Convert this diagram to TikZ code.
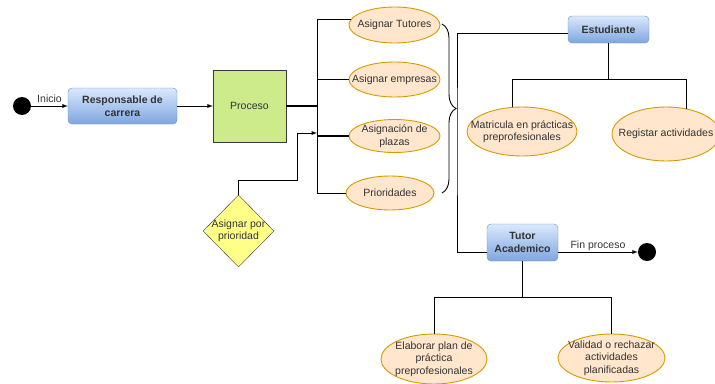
\documentclass[tikz,border=0pt]{standalone}
\usepackage{fontspec}
\setmainfont{Liberation Sans}
\usetikzlibrary{shapes.geometric, decorations.pathreplacing}
\definecolor{boxtop}{HTML}{DAE8FC}
\definecolor{boxbot}{HTML}{7EA6E0}
\definecolor{boxline}{HTML}{6C8EBF}
\definecolor{procfill}{HTML}{CDEB8B}
\definecolor{darkline}{HTML}{36393D}
\definecolor{ovalfill}{HTML}{FFE6CC}
\definecolor{ovalline}{HTML}{D79B00}
\definecolor{choicefill}{HTML}{FFFF88}
\definecolor{txtgray}{HTML}{333333}
\begin{document}
\begin{tikzpicture}[%
      x=1pt, y=-1pt, font=\fontsize{10.5}{12.5}\selectfont, text=txtgray,
      block/.style={rectangle, draw=boxline, top color=boxtop, bottom color=boxbot, rounded corners=4pt, align=center, inner sep=1pt, font=\fontsize{10.5}{12.5}\selectfont\bfseries},
      proc/.style={rectangle, draw=darkline, fill=procfill, minimum width=73pt, minimum height=72pt},
      oval/.style={ellipse, draw=ovalline, fill=ovalfill, line width=0.9pt, inner sep=0pt},
      choice/.style={diamond, draw=darkline, fill=choicefill, inner sep=0pt},
      txt/.style={align=center, inner sep=0pt},
      dot/.style={circle, fill=black, minimum size=18pt, inner sep=0pt},
      line/.style={draw, line width=0.9pt, -latex},
      link/.style={draw, line width=0.9pt},
      thicklink/.style={draw, line width=1.8pt},
      brace/.style={draw, line width=0.9pt, decorate, decoration={brace, amplitude=14pt}}
      ]
    \useasboundingbox (0,0) rectangle (715,383);

    % start and first boxes
    \node [dot] (start) at (22,106) {};
    \node [block, minimum width=109pt, minimum height=36pt] (resp) at (122.5,106) {Responsable de\\carrera};
    \node [proc] (proc) at (249.5,106) {Proceso};
    \path [line] (start) -- node [above, inner sep=3pt] (inicio) {Inicio} (resp);
    \path [line] (resp) -- (proc);

    % tasks of the process
    \node [oval, minimum width=91pt, minimum height=36pt] (tuto) at (394.5,25) {};
    \node [txt] (tutotxt) at (tuto) {Asignar Tutores};
    \node [oval, minimum width=91pt, minimum height=35pt] (emp) at (394.5,79.5) {};
    \node [txt] (emptxt) at (emp) {Asignar empresas};
    \node [oval, minimum width=91pt, minimum height=33pt] (plaz) at (394.5,136) {};
    \node [txt] (plaztxt) at (plaz) {Asignación de\\plazas};
    \node [oval, minimum width=88pt, minimum height=34pt] (prio) at (390,193) {};
    \node [txt] (priotxt) at (prio) {Prioridades};

    \coordinate (trunk) at (317,106);
    \path [thicklink] (proc) -- (trunk);
    \path [link] (trunk) |- (tuto.173);
    \path [link] (trunk) |- (prio.west);
    \path [thicklink] (trunk |- emp.west) -- (emp.west);
    \path [thicklink] (trunk |- plaz.west) -- (plaz.west);

    \node [choice, minimum width=71pt, minimum height=72pt] (pdia) at (238.5,231) {};
    \node [txt] (pdiatxt) at (pdia) {Asignar por\\prioridad};
    \coordinate (kink) at (297,180);
    \coordinate (merge) at (317,133);
    \path [line] (pdia.north) |- (kink) |- (merge);

    \path [brace] (442,24) -- (442,193);

    % student
    \node [block, minimum width=81pt, minimum height=27pt] (est) at (608.5,29.5) {Estudiante};
    \node [oval, minimum width=110pt, minimum height=49pt] (mat) at (522,131.5) {};
    \node [txt] (mattxt) at (mat) {Matricula en prácticas\\preprofesionales};
    \node [oval, minimum width=108pt, minimum height=54pt] (reg) at (666,134) {};
    \node [txt] (regtxt) at (reg) {Registar actividades};
    \coordinate (estsplit) at (608.5,79);
    \path [thicklink] (est.south) -- (estsplit);
    \path [link] (estsplit) -| (mat.112);
    \path [link] (estsplit) -| (reg.51);

    % tutor
    \node [block, minimum width=71pt, minimum height=37pt] (tut) at (522.5,242.5) {Tutor\\Academico};
    \coordinate (bridge) at (457,140);
    \path [link] ([yshift=-3.5pt]est.west) -| (bridge) |- ([yshift=-9.5pt]tut.west);

    \node [dot] (end) at (647,252) {};
    \path [line] ([yshift=-9.5pt]tut.east) -- node [above, inner sep=1pt] (fin) {Fin proceso} (end);

    \node [oval, minimum width=106pt, minimum height=50pt] (ela) at (434,359) {};
    \node [txt] (elatxt) at (ela) {Elaborar plan de\\práctica\\preprofesionales};
    \node [oval, minimum width=107pt, minimum height=48pt] (val) at (611.5,358) {};
    \node [txt] (valtxt) at (val) {Validad o rechazar\\actividades\\planificadas};
    \coordinate (tutsplit) at (522.5,297);
    \path [thicklink] (tut.south) -- (tutsplit);
    \path [link] (tutsplit) -| (ela.north);
    \path [link] (tutsplit) -| (val.north);
  \end{tikzpicture}
\end{document}
